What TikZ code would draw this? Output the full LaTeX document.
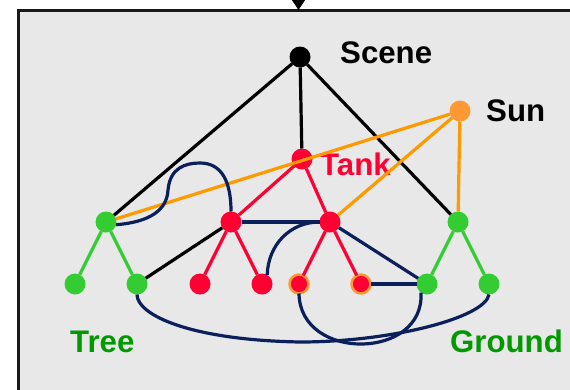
\documentclass[tikz,border=0pt]{standalone}
\usepackage{fontspec}
\setmainfont{Liberation Sans}
\usetikzlibrary{arrows.meta}
\definecolor{bgray}{HTML}{E8E8E8}
\definecolor{nred}{HTML}{FF0033}
\definecolor{ngreen}{HTML}{33CC33}
\definecolor{tgreen}{HTML}{009900}
\definecolor{norange}{HTML}{FF9900}
\definecolor{sunorange}{HTML}{FF9933}
\definecolor{navy}{HTML}{0B1F5B}
\tikzset{
  dot/.style={circle, minimum size=21pt, inner sep=0pt, outer sep=0pt},
  blackdot/.style={dot, fill=black},
  reddot/.style={dot, fill=nred},
  greendot/.style={dot, fill=ngreen},
  sundot/.style={dot, fill=sunorange},
  ringdot/.style={dot, fill=nred, draw=sunorange, line width=2.5pt, minimum size=19pt},
  lbl/.style={inner sep=0pt, anchor=base west, font=\fontsize{31.2}{31.2}\selectfont\bfseries},
  edge/.style={line width=3.2pt},
  bedge/.style={edge, draw=black},
  redge/.style={edge, draw=nred},
  gedge/.style={edge, draw=ngreen},
  oedge/.style={edge, draw=norange},
  nedge/.style={edge, draw=navy},
}
\begin{document}
\begin{tikzpicture}[x=1pt,y=-1pt]
\useasboundingbox (0,0) rectangle (570,389);
% frame
\draw[line width=2.8pt, draw=black!90, fill=bgray] (18.5,10.5) rectangle (620,440);
\coordinate (arrowtop) at (298.5,-30);
\coordinate (arrowend) at (298.5,10);
\draw[line width=1pt, -{Triangle[length=10pt,width=13pt]}] (arrowtop) -- (arrowend);
% nodes
\node[blackdot] (scene) at (300,57) {};
\node[sundot] (sun) at (460,111) {};
\node[reddot] (tank) at (302,159) {};
\node[greendot] (tree) at (106,222) {};
\node[reddot] (lc) at (231,222) {};
\node[reddot] (rc) at (330,222) {};
\node[greendot] (ground) at (458,222) {};
\node[greendot] (t1) at (75,284) {};
\node[greendot] (t2) at (137,284) {};
\node[reddot] (k1) at (200,284) {};
\node[reddot] (k2) at (262,284) {};
\node[ringdot] (k3) at (299,284) {};
\node[ringdot] (k4) at (361,284) {};
\node[greendot] (g1) at (427,284) {};
\node[greendot] (g2) at (489,284) {};
% labels
\node[lbl, text=black] (lscene) at (340,63.5) {Scene};
\node[lbl, text=black] (lsun) at (486,121) {Sun};
\node[lbl, text=nred] (ltank) at (320,175) {Tank};
\node[lbl, text=tgreen] (ltree) at (70,352) {Tree};
\node[lbl, text=tgreen] (lground) at (450,352) {Ground};
% black edges
\draw[bedge] (scene) -- (tree);
\draw[bedge] (scene) -- (tank);
\draw[bedge] (scene) -- (ground);
\draw[bedge] (t2) -- (lc);
% orange edges
\draw[oedge] (sun) -- (tree);
\draw[oedge] (sun) -- (rc);
\draw[oedge] (sun) -- (ground);
% red edges
\draw[redge] (tank) -- (lc);
\draw[redge] (tank) -- (rc);
\draw[redge] (lc) -- (k1);
\draw[redge] (lc) -- (k2);
\draw[redge] (rc) -- (k3);
\draw[redge] (rc) -- (k4);
% green edges
\draw[gedge] (tree) -- (t1);
\draw[gedge] (tree) -- (t2);
\draw[gedge] (ground) -- (g1);
\draw[gedge] (ground) -- (g2);
% navy edges
\draw[nedge] (tree.-15) .. controls (150,222) and (167,210) .. (168,190)
  .. controls (170,168) and (185,163) .. (200,163)
  .. controls (222,163) and (231,182) .. (lc.north);
\draw[nedge] (lc) -- (rc);
\draw[nedge] (rc.west) .. controls (290,222) and (268,245) .. (k2.60);
\draw[nedge] (rc) -- (g1);
\draw[nedge] (k4) -- (g1);
\draw[nedge] (k3.south) .. controls (300,362) and (425,360) .. (g1.235);
\draw[nedge] (t2.south) .. controls (137,315) and (190,340) .. (300,342)
  .. controls (390,342) and (485,318) .. (g2.south);
\end{tikzpicture}
\end{document}
